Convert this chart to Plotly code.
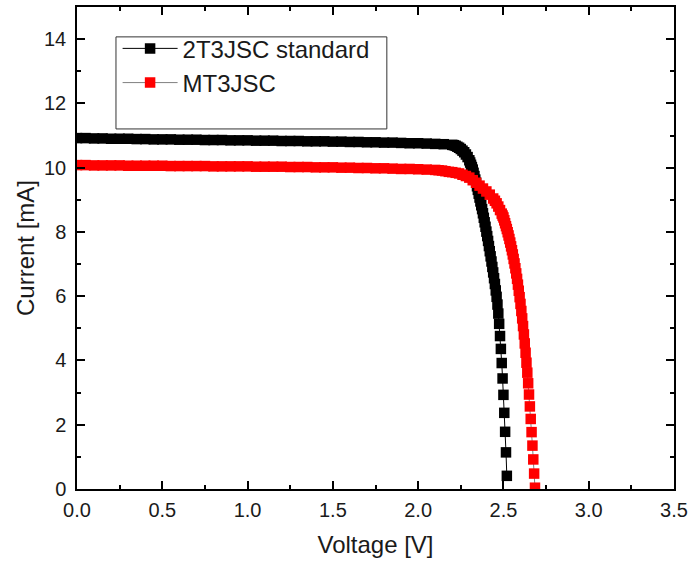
import plotly.graph_objects as go

# ---- data ----
black_v = [0.00, 0.05, 0.10, 0.15, 0.20, 0.25, 0.30, 0.35, 0.40, 0.45, 0.50, 0.55, 0.60, 0.65, 0.70,
           0.75, 0.80, 0.85, 0.90, 0.95, 1.00, 1.05, 1.10, 1.15, 1.20, 1.25, 1.30, 1.35, 1.40, 1.45,
           1.50, 1.55, 1.60, 1.65, 1.70, 1.75, 1.80, 1.85, 1.90, 1.95, 2.00, 2.05, 2.10, 2.15,
           2.20, 2.21, 2.22, 2.23, 2.24, 2.25, 2.26, 2.27, 2.28, 2.29, 2.30,
           2.305, 2.310, 2.315, 2.320, 2.325, 2.330, 2.335, 2.340, 2.345, 2.350, 2.355, 2.360,
           2.365, 2.370, 2.375, 2.380, 2.385, 2.390, 2.395, 2.400, 2.405, 2.410, 2.415, 2.420,
           2.425, 2.430, 2.435, 2.440, 2.445, 2.450, 2.455, 2.460, 2.465, 2.470, 2.475, 2.480,
           2.485, 2.490, 2.495, 2.500, 2.505, 2.510, 2.515, 2.520]
black_i = [10.92, 10.92, 10.91, 10.91, 10.90, 10.90, 10.90, 10.89, 10.89, 10.88, 10.88, 10.88, 10.87,
           10.87, 10.87, 10.86, 10.86, 10.86, 10.85, 10.85, 10.85, 10.84, 10.84, 10.84, 10.83, 10.83,
           10.83, 10.82, 10.82, 10.82, 10.81, 10.81, 10.80, 10.80, 10.79, 10.79, 10.78, 10.78, 10.77,
           10.76, 10.76, 10.75, 10.74, 10.73,
           10.71, 10.70, 10.68, 10.65, 10.62, 10.58, 10.53, 10.48, 10.41, 10.33, 10.23,
           10.16, 10.09, 10.02, 9.94, 9.84, 9.74, 9.63, 9.53, 9.42, 9.31, 9.19, 9.07,
           8.95, 8.83, 8.71, 8.58, 8.44, 8.30, 8.16, 8.01, 7.87, 7.72, 7.56, 7.40,
           7.24, 7.08, 6.91, 6.74, 6.56, 6.38, 6.18, 5.98, 5.74, 5.46, 5.14, 4.76,
           4.36, 3.92, 3.44, 2.93, 2.37, 1.78, 1.14, 0.41]

red_v = [0.00, 0.05, 0.10, 0.15, 0.20, 0.25, 0.30, 0.35, 0.40, 0.45, 0.50, 0.55, 0.60, 0.65, 0.70,
         0.75, 0.80, 0.85, 0.90, 0.95, 1.00, 1.05, 1.10, 1.15, 1.20, 1.25, 1.30, 1.35, 1.40, 1.45,
         1.50, 1.55, 1.60, 1.65, 1.70, 1.75, 1.80, 1.85, 1.90, 1.95, 2.00, 2.05,
         2.10, 2.12, 2.14, 2.16, 2.18, 2.20, 2.22, 2.24, 2.26, 2.28, 2.30, 2.32, 2.34, 2.36,
         2.38, 2.40, 2.42, 2.44, 2.45, 2.46, 2.47, 2.48, 2.49,
         2.495, 2.500, 2.505, 2.510, 2.515, 2.520, 2.525, 2.530, 2.535, 2.540, 2.545, 2.550,
         2.555, 2.560, 2.565, 2.570, 2.575, 2.580, 2.585, 2.590, 2.595, 2.600, 2.605, 2.610,
         2.615, 2.620, 2.625, 2.630, 2.635, 2.640, 2.645, 2.650, 2.655, 2.660, 2.665, 2.670,
         2.675, 2.680, 2.685]
red_i = [10.08, 10.08, 10.07, 10.07, 10.07, 10.07, 10.06, 10.06, 10.06, 10.06, 10.06, 10.05, 10.05,
         10.05, 10.05, 10.05, 10.04, 10.04, 10.04, 10.04, 10.04, 10.03, 10.03, 10.03, 10.03, 10.02,
         10.02, 10.02, 10.01, 10.01, 10.01, 10.00, 10.00, 9.99, 9.99, 9.98, 9.98, 9.97, 9.96, 9.96,
         9.95, 9.94,
         9.93, 9.92, 9.91, 9.89, 9.87, 9.86, 9.84, 9.82, 9.78, 9.74, 9.69, 9.61, 9.53, 9.44,
         9.35, 9.26, 9.16, 9.04, 8.97, 8.89, 8.79, 8.68, 8.57,
         8.51, 8.45, 8.36, 8.27, 8.18, 8.09, 7.99, 7.89, 7.78, 7.67, 7.55, 7.43,
         7.30, 7.16, 7.02, 6.87, 6.71, 6.54, 6.36, 6.17, 5.97, 5.76, 5.54, 5.31,
         5.07, 4.81, 4.53, 4.24, 3.93, 3.62, 3.29, 2.94, 2.57, 2.18, 1.77, 1.35,
         0.92, 0.48, 0.04]

series_names = ["2T3JSC standard", "MT3JSC"]
x_tick_vals = [0.0, 0.5, 1.0, 1.5, 2.0, 2.5, 3.0, 3.5]
y_tick_vals = [0, 2, 4, 6, 8, 10, 12, 14]

FONT = "Liberation Sans, Arial, sans-serif"
TXT = "#1a1a1a"

fig = go.Figure()
fig.add_trace(go.Scatter(
    x=black_v, y=black_i, name=series_names[0], mode="lines+markers",
    line=dict(color="black", width=1),
    marker=dict(symbol="square", size=10.5, color="black", line=dict(width=0)),
))
fig.add_trace(go.Scatter(
    x=red_v, y=red_i, name=series_names[1], mode="lines+markers",
    line=dict(color="#808080", width=1),
    marker=dict(symbol="square", size=10.5, color="#ff0000", line=dict(width=0)),
))

axis_common = dict(
    showline=True, linecolor="black", linewidth=1.5, mirror="ticks",
    ticks="inside", ticklen=8, tickwidth=1.5, tickcolor="black",
    showgrid=False, zeroline=False, automargin=False,
    tickfont=dict(family=FONT, size=20, color=TXT),
)

fig.update_xaxes(
    range=[0, 3.5], tickvals=x_tick_vals, tickformat=".1f",
    minor=dict(ticks="inside", ticklen=4, tickwidth=1.5, tickcolor="black", dtick=0.25, showgrid=False),
    title=dict(text="Voltage [V]", font=dict(family=FONT, size=24, color=TXT), standoff=16),
    ticklabelstandoff=2,
    **axis_common,
)
fig.update_yaxes(
    range=[0, 15], tickvals=y_tick_vals,
    minor=dict(ticks="inside", ticklen=4, tickwidth=1.5, tickcolor="black", dtick=1, showgrid=False),
    title=dict(text="Current [mA]", font=dict(family=FONT, size=24, color=TXT), standoff=3),
    ticklabelstandoff=5,
    **axis_common,
)

# legend frame
fig.add_shape(type="rect", xref="paper", yref="paper", x0=0.0653, x1=0.519, y0=0.747, y1=0.938,
              line=dict(color="#333333", width=1), fillcolor="rgba(0,0,0,0)")

fig.update_layout(
    width=690, height=565,
    margin=dict(l=77, r=16, t=7, b=76),
    paper_bgcolor="white", plot_bgcolor="white",
    font=dict(family=FONT, color=TXT),
    legend=dict(x=0.068, y=0.96, xanchor="left", yanchor="top",
                bgcolor="rgba(0,0,0,0)", borderwidth=0, itemwidth=55,
                font=dict(family=FONT, size=24, color=TXT)),
    showlegend=True,
)

fig.write_html("out.html", config={"displayModeBar": False},
               post_script="document.body.style.margin='0';")
